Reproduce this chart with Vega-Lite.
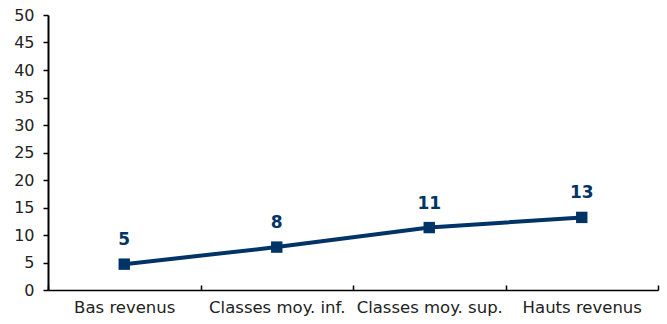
{
  "$schema": "https://vega.github.io/schema/vega-lite/v6.json",
  "autosize": "none",
  "width": 610,
  "height": 275,
  "padding": {"left": 48, "top": 15, "right": 9, "bottom": 34},
  "background": "white",
  "config": {"view": {"stroke": null}, "font": "DejaVu Sans"},
  "data": {"values": [
    {"cat": "Bas revenus", "v": 4.7, "lab": "5"},
    {"cat": "Classes moy. inf.", "v": 7.8, "lab": "8"},
    {"cat": "Classes moy. sup.", "v": 11.35, "lab": "11"},
    {"cat": "Hauts revenus", "v": 13.2, "lab": "13"}
  ]},
  "encoding": {
    "x": {"field": "cat", "type": "ordinal", "sort": null,
      "scale": {"paddingInner": 0, "paddingOuter": 0},
      "axis": {"title": null, "labelAngle": 0, "domainColor": "black", "domainWidth": 1.5, "tickColor": "black", "tickWidth": 1.5, "tickSize": -5, "tickBand": "extent", "labelPadding": 14, "labelFontSize": 16.5, "labelColor": "#222", "labelFont": "DejaVu Sans"}},
    "y": {"field": "v", "type": "quantitative",
      "scale": {"domain": [0, 50], "nice": false},
      "axis": {"title": null, "values": [0,5,10,15,20,25,30,35,40,45,50], "grid": false, "domainColor": "black", "domainWidth": 2, "tickColor": "black", "tickWidth": 1.5, "tickSize": 5, "labelPadding": 9, "labelFontSize": 16, "labelColor": "#222", "labelFont": "DejaVu Sans"}}
  },
  "layer": [
    {"mark": {"type": "line", "color": "#003366", "strokeWidth": 4}},
    {"mark": {"type": "point", "shape": "square", "filled": true, "opacity": 1, "color": "#003366", "size": 130}},
    {"mark": {"type": "text", "color": "#003366", "fontWeight": "bold", "fontSize": 17, "baseline": "middle", "dy": -24, "font": "DejaVu Sans"}, "encoding": {"text": {"field": "lab"}}}
  ]
}
